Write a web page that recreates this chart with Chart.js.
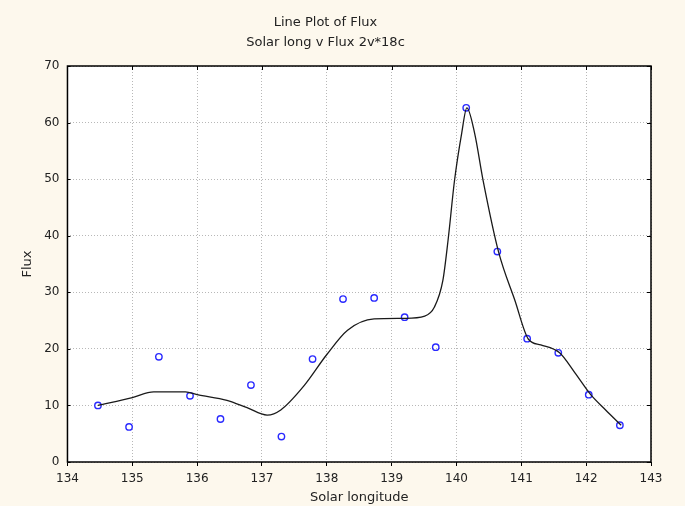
<!DOCTYPE html>
<html>
<head>
<meta charset="utf-8">
<script src="https://cdn.jsdelivr.net/npm/chart.js@4/dist/chart.umd.min.js"></script>
<style>
  html, body { margin: 0; padding: 0; background: #fdf8ed; }
  canvas { display: block; }
</style>
</head>
<body>
<canvas id="chart" width="685" height="506"></canvas>
<script>
// Observed flux values (blue circles)
const solarLong = [134.47, 134.95, 135.41, 135.89, 136.36, 136.83, 137.30, 137.78, 138.25,
                   138.73, 139.20, 139.68, 140.15, 140.63, 141.09, 141.57, 142.04, 142.52];
const flux = [10.0, 6.2, 18.6, 11.7, 7.6, 13.6, 4.5, 18.2, 28.8,
              29.0, 25.6, 20.3, 62.6, 37.2, 21.8, 19.3, 11.9, 6.5];

// Smoothed fit line
const fitX = [134.47, 135.0, 135.33, 135.82, 136.0, 136.46, 136.77, 137.08, 137.29, 137.65,
              138.0, 138.32, 138.73, 139.2, 139.51, 139.66, 139.79, 139.87, 139.97, 140.08,
              140.16, 140.28, 140.41, 140.65, 140.9, 141.11, 141.3, 141.59, 141.83, 142.07,
              142.3, 142.54];
const fitY = [10.0, 11.4, 12.4, 12.4, 11.9, 10.9, 9.6, 8.3, 9.2, 13.5,
              19.0, 23.3, 25.3, 25.4, 25.8, 27.4, 32.1, 39.2, 49.8, 58.1,
              62.6, 58.1, 49.8, 37.1, 28.6, 21.7, 20.7, 19.3, 15.7, 11.9,
              9.2, 6.5];

const xTicks = [134, 135, 136, 137, 138, 139, 140, 141, 142, 143];
const yTicks = [0, 10, 20, 30, 40, 50, 60, 70];

const FONT = 'DejaVu Sans, sans-serif';
const BG = '#fdf8ed';

// ─── Plugins ──────────────────────────────────────────────────────────────────
const frame = {
  id: 'frame',
  beforeDraw(chart) {
    const { ctx, chartArea: a } = chart;
    ctx.save();
    ctx.fillStyle = BG;
    ctx.fillRect(0, 0, chart.width, chart.height);
    ctx.fillStyle = '#ffffff';
    ctx.fillRect(a.left, a.top, a.right - a.left, a.bottom - a.top);
    ctx.restore();
  },
  afterDatasetsDraw(chart) {
    const { ctx, chartArea: a, scales } = chart;
    ctx.save();
    ctx.strokeStyle = '#000';
    ctx.lineWidth = 1.5;
    ctx.strokeRect(a.left, a.top, a.right - a.left, a.bottom - a.top);
    // small inward ticks on the frame
    ctx.lineWidth = 1;
    ctx.beginPath();
    xTicks.forEach(v => {
      const x = Math.round(scales.x.getPixelForValue(v)) + 0.5;
      ctx.moveTo(x, a.top); ctx.lineTo(x, a.top + 4);
    });
    yTicks.forEach(v => {
      const y = Math.round(scales.y.getPixelForValue(v)) + 0.5;
      ctx.moveTo(a.right, y); ctx.lineTo(a.right - 4, y);
      ctx.moveTo(a.left, y); ctx.lineTo(a.left + 3, y);
    });
    ctx.stroke();
    ctx.restore();
  }
};

// ─── Chart ────────────────────────────────────────────────────────────────────
new Chart(document.getElementById('chart'), {
  type: 'scatter',
  data: {
    datasets: [
      {
        label: 'Fit',
        data: fitX.map((x, i) => ({ x, y: fitY[i] })),
        showLine: true,
        borderColor: '#1a1a1a',
        borderWidth: 1.3,
        pointRadius: 0,
        cubicInterpolationMode: 'monotone',
        fill: false,
      },
      {
        label: 'Flux',
        data: solarLong.map((x, i) => ({ x, y: flux[i] })),
        showLine: false,
        pointRadius: 3.2,
        pointBorderWidth: 1.4,
        pointBorderColor: '#2a2aff',
        pointBackgroundColor: 'rgba(255,255,255,0)',
      },
    ],
  },
  options: {
    responsive: false,
    animation: false,
    layout: { padding: { left: 0, right: 34, top: 0, bottom: 0.4 } },
    plugins: {
      legend: { display: false },
      tooltip: { enabled: false },
      title: {
        display: true,
        text: 'Line Plot of Flux',
        color: '#222',
        font: { family: FONT, size: 13, weight: 'normal' },
        padding: { top: 14.5, bottom: 4.8 },
      },
      subtitle: {
        display: true,
        text: 'Solar long v Flux 2v*18c',
        color: '#222',
        font: { family: FONT, size: 13, weight: 'normal' },
        padding: { top: 0, bottom: 15.5 },
      },
    },
    scales: {
      x: {
        type: 'linear',
        min: 134,
        max: 143,
        afterBuildTicks: s => { s.ticks = xTicks.map(v => ({ value: v })); },
        ticks: { color: '#222', padding: 5.8, font: { family: FONT, size: 12 } },
        grid: {
          color: '#b8b8b8',
          tickColor: '#000',
          tickLength: 4,
          tickBorderDash: [],
        },
        border: { display: false, dash: [1, 2] },
        title: {
          display: true,
          text: 'Solar longitude',
          color: '#222',
          font: { family: FONT, size: 13 },
          padding: { top: -2.5, bottom: 0.5 },
        },
      },
      y: {
        type: 'linear',
        min: 0,
        max: 70,
        afterBuildTicks: s => { s.ticks = yTicks.map(v => ({ value: v })); },
        ticks: { color: '#222', padding: 8, font: { family: FONT, size: 12 } },
        grid: {
          color: '#b8b8b8',
          drawTicks: false,
        },
        border: { display: false, dash: [1, 2] },
        title: {
          display: true,
          text: 'Flux',
          color: '#222',
          font: { family: FONT, size: 13 },
          padding: { top: 19.9, bottom: 0.7 },
        },
      },
    },
  },
  plugins: [frame],
});
</script>
</body>
</html>
